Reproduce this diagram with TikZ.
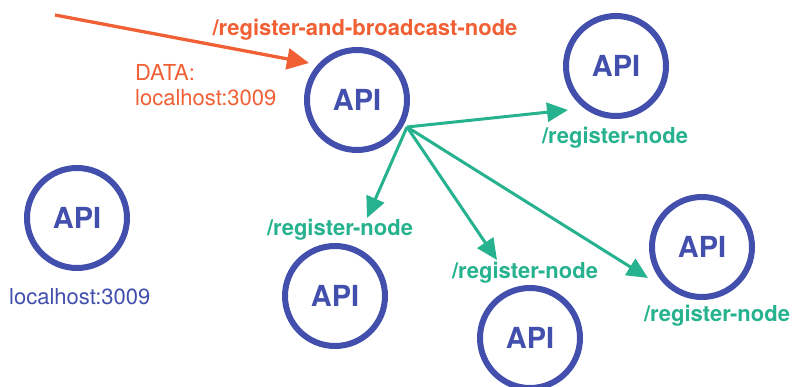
\documentclass[tikz,border=0pt]{standalone}
\usepackage{fontspec}
\setmainfont{TeX Gyre Heros}
\usetikzlibrary{arrows.meta}
\definecolor{apiblue}{RGB}{66,79,173}
\definecolor{regorange}{RGB}{241,96,52}
\definecolor{reggreen}{RGB}{38,178,142}
\tikzset{
  api/.style={circle, draw=apiblue, line width=6pt, minimum size=100pt, inner sep=0pt,
    text=apiblue, font=\fontsize{29}{31}\selectfont\bfseries},
  greenlbl/.style={text=reggreen, font=\fontsize{22}{24}\selectfont\bfseries, inner sep=0pt},
  orangelbl/.style={text=regorange, font=\fontsize{22}{24}\selectfont\bfseries, inner sep=0pt},
  plainlbl/.style={font=\fontsize{22}{25}\selectfont, inner sep=0pt, align=left},
  greenarrow/.style={draw=reggreen, line width=3pt, -{Triangle[length=21pt,width=19pt]}},
  orangearrow/.style={draw=regorange, line width=3.3pt, -{Triangle[length=22pt,width=21pt]}}
}
\begin{document}
\begin{tikzpicture}[x=1pt,y=-1pt]
\useasboundingbox (0,0) rectangle (792,387);
\begin{scope}
\clip (0,0) rectangle (792,387);
% API nodes
\node[api] (center) at (357,100) {API};
\node[api] (topright) at (616,66) {API};
\node[api] (left) at (77,218) {API};
\node[api] (botleft) at (335,296) {API};
\node[api] (botmid) at (530,338) {API};
\node[api] (right) at (702,247) {API};
\end{scope}
% labels
\node[orangelbl] (rbn) at (365,30) {/register-and-broadcast-node};
\node[plainlbl, text=regorange, anchor=west] (data) at (135,85) {DATA:\\localhost:3009};
\node[plainlbl, text=apiblue, anchor=west] (lh) at (9,297) {localhost:3009};
\node[greenlbl] (l1) at (615,138) {/register-node};
\node[greenlbl] (l2) at (340,230) {/register-node};
\node[greenlbl] (l3) at (525,273) {/register-node};
\node[greenlbl] (l4) at (717,316) {/register-node};
% connectors
\coordinate (src) at (55,15);
\coordinate (srctip) at (309,63);
\draw[orangearrow] (src) -- (srctip);
\coordinate (hub) at (407,127);
\coordinate (t1) at (568,110);
\coordinate (t2) at (367,218);
\coordinate (t3) at (497,260);
\coordinate (t4) at (648,278);
\draw[greenarrow] (hub) -- (t1);
\draw[greenarrow] (hub) -- (t2);
\draw[greenarrow] (hub) -- (t3);
\draw[greenarrow] (hub) -- (t4);
\end{tikzpicture}
\end{document}
